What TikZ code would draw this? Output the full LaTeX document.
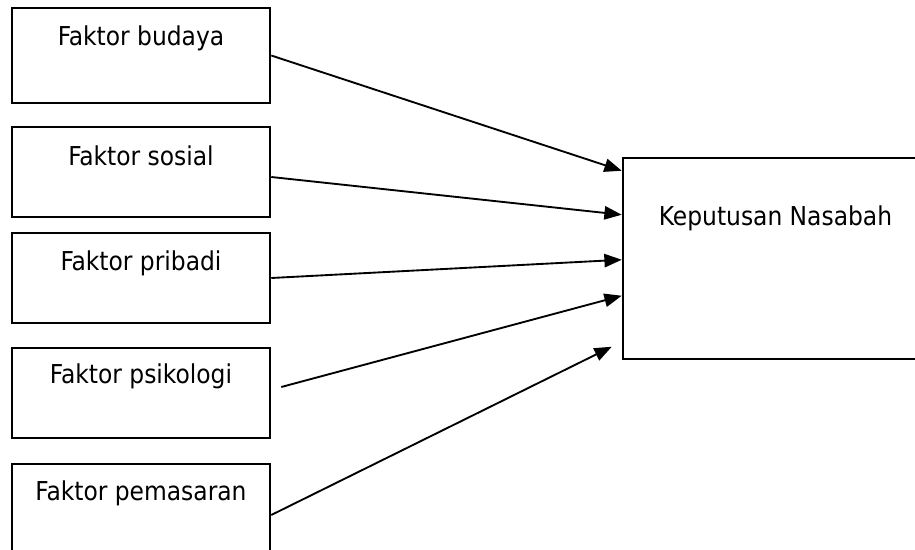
\documentclass[tikz,border=0pt]{standalone}
\usepackage{fontspec}
\setmainfont{DejaVu Sans Condensed}
\usetikzlibrary{arrows.meta,calc}

\begin{document}
\begin{tikzpicture}[
  x=0.75pt, y=-0.75pt,
  factor/.style={draw, line width=1.9pt, minimum width=193.5pt, inner sep=0pt},
  result/.style={draw, line width=1.9pt, minimum width=222.75pt, minimum height=150.75pt, inner sep=0pt},
  boxtext/.style={anchor=base, inner sep=0pt, font=\fontsize{19.5}{22}\selectfont},
  arrow/.style={-{Triangle[length=13pt,width=10pt]}, line width=1.4pt}
]
\clip (0,0) rectangle (915,550);

% Factors on the left, decision on the right.
\node[factor, minimum height=71.25pt] (budaya) at (141,55.5) {};
\node[factor, minimum height=67.5pt] (sosial) at (141,172) {};
\node[factor, minimum height=67.5pt] (pribadi) at (141,278) {};
\node[factor, minimum height=67.5pt] (psikologi) at (141,393) {};
\node[factor, minimum height=69pt] (pemasaran) at (141,510) {};
\node[result] (keputusan) at (771.5,258.5) {};

\node[boxtext] (tbudaya) at ($(budaya.north)+(0,39)$) {Faktor budaya};
\node[boxtext] (tsosial) at ($(sosial.north)+(0,40)$) {Faktor sosial};
\node[boxtext] (tpribadi) at ($(pribadi.north)+(0,39)$) {Faktor pribadi};
\node[boxtext] (tpsikologi) at ($(psikologi.north)+(0,37)$) {Faktor psikologi};
\node[boxtext] (tpemasaran) at ($(pemasaran.north)+(0,38)$) {Faktor pemasaran};
\node[boxtext] (tkeputusan) at ($(keputusan.north)+(4,69)$) {Keputusan Nasabah};

\draw[arrow] (budaya.east) -- ($(keputusan.north west)+(0,14)$);
\draw[arrow] ($(sosial.east)+(0,5)$) -- ($(keputusan.north west)+(0,58)$);
\draw[arrow] (pribadi.east) -- ($(keputusan.north west)+(0,103)$);
\draw[arrow] ($(psikologi.east)+(10,-6)$) -- ($(keputusan.north west)+(0,139)$);
\draw[arrow] ($(pemasaran.east)+(0,5)$) -- ($(keputusan.north west)+(-10,190)$);
\end{tikzpicture}
\end{document}
